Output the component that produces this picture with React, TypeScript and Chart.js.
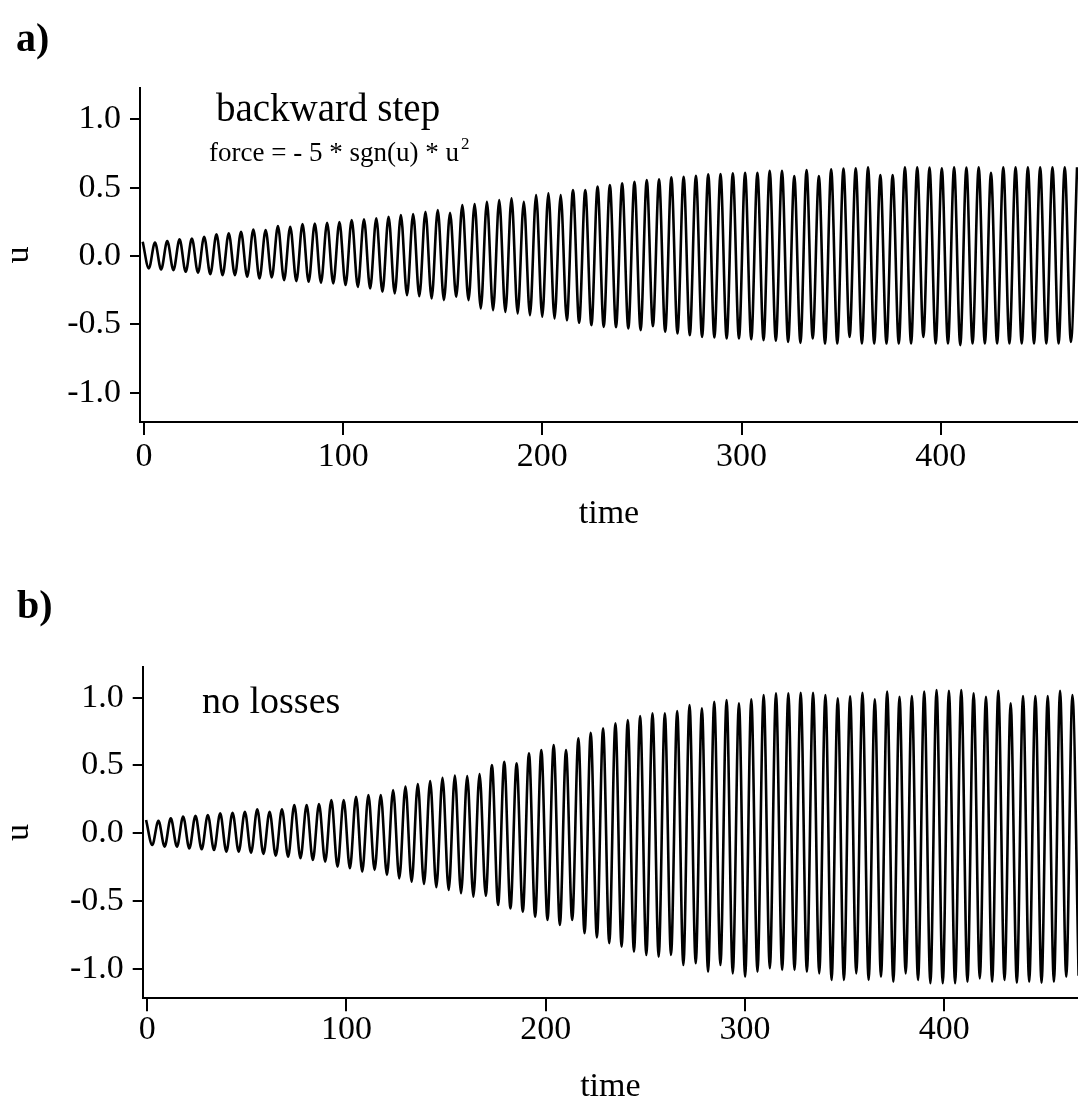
import React, { useEffect, useRef } from "react";
import { Chart, registerables } from "chart.js";

Chart.register(...registerables);

const FONT = '"Liberation Serif", "Times New Roman", serif';

// x ticks / y ticks
const xTickValues = [0, 100, 200, 300, 400];
const yTickValues = [-1.0, -0.5, 0.0, 0.5, 1.0];

// timing of the oscillation extrema
const startA = -0.65;
const periodA = 6.172;
const startB = -0.6;
const periodB = 6.2;

// panel a: backward step, peak (max) values per cycle
const peaksA = [
  0.105, 0.1, 0.11, 0.122, 0.129, 0.142, 0.159, 0.166, 0.178, 0.195,
  0.19, 0.22, 0.215, 0.234, 0.239, 0.244, 0.25, 0.264, 0.27, 0.276,
  0.288, 0.3, 0.308, 0.325, 0.337, 0.317, 0.374, 0.381, 0.398, 0.41,
  0.422, 0.398, 0.447, 0.459, 0.447, 0.484, 0.484, 0.508, 0.52, 0.532,
  0.544, 0.557, 0.562, 0.576, 0.581, 0.588, 0.598, 0.601, 0.606, 0.61,
  0.61, 0.625, 0.625, 0.586, 0.63, 0.586, 0.635, 0.64, 0.642, 0.65,
  0.593, 0.593, 0.65, 0.65, 0.647, 0.642, 0.65, 0.647, 0.65, 0.61,
  0.65, 0.65, 0.65, 0.65, 0.65, 0.65, 0.65,
];
// panel a: trough (min) values per cycle
const troughsA = [
  -0.09, -0.098, -0.103, -0.115, -0.122, -0.132, -0.139, -0.139, -0.151, -0.164,
  -0.156, -0.176, -0.183, -0.188, -0.195, -0.2, -0.212, -0.225, -0.237, -0.261,
  -0.273, -0.286, -0.293, -0.31, -0.322, -0.298, -0.322, -0.383, -0.396, -0.408,
  -0.42, -0.432, -0.444, -0.457, -0.469, -0.488, -0.505, -0.518, -0.52, -0.53,
  -0.542, -0.513, -0.554, -0.566, -0.579, -0.591, -0.596, -0.603, -0.603, -0.61,
  -0.615, -0.62, -0.628, -0.635, -0.603, -0.64, -0.64, -0.591, -0.64, -0.64,
  -0.64, -0.64, -0.64, -0.591, -0.64, -0.64, -0.652, -0.64, -0.64, -0.64,
  -0.64, -0.64, -0.64, -0.64, -0.64, -0.628,
];

// panel b: no losses
const peaksB = [
  0.098, 0.093, 0.11, 0.123, 0.13, 0.135, 0.147, 0.152, 0.159, 0.177,
  0.159, 0.177, 0.209, 0.209, 0.216, 0.245, 0.245, 0.27, 0.282, 0.282,
  0.319, 0.344, 0.363, 0.385, 0.41, 0.425, 0.422, 0.437, 0.503, 0.528,
  0.516, 0.59, 0.614, 0.651, 0.614, 0.7, 0.741, 0.774, 0.811, 0.835,
  0.864, 0.884, 0.884, 0.901, 0.945, 0.921, 0.97, 0.982, 0.958, 0.987,
  1.019, 1.032, 1.032, 1.036, 1.036, 1.019, 0.995, 1.01, 1.036, 0.987,
  1.044, 1.007, 1.012, 1.044, 1.056, 1.051, 1.056, 1.032, 1.007, 1.051,
  0.958, 1.012, 1.012, 1.012, 1.051, 1.019,
];
const troughsB = [
  -0.086, -0.098, -0.098, -0.111, -0.118, -0.123, -0.135, -0.135, -0.143, -0.152,
  -0.165, -0.172, -0.184, -0.197, -0.209, -0.246, -0.258, -0.283, -0.27, -0.307,
  -0.332, -0.357, -0.374, -0.398, -0.418, -0.442, -0.467, -0.46, -0.528, -0.553,
  -0.578, -0.615, -0.639, -0.676, -0.639, -0.737, -0.767, -0.81, -0.836, -0.873,
  -0.897, -0.909, -0.897, -0.971, -0.958, -1.02, -0.971, -1.032, -1.057, -1.02,
  -0.995, -1.007, -1.007, -1.02, -1.032, -1.081, -1.081, -1.032, -1.081, -1.057,
  -1.094, -1.032, -1.081, -1.105, -1.105, -1.105, -1.094, -1.069, -1.094, -1.081,
  -1.101, -1.094, -1.101, -1.094, -1.057, -1.05,
];

function buildPoints(peaks: number[], troughs: number[], start: number, period: number) {
  const pts: { x: number; y: number }[] = [];
  for (let k = 0; k < peaks.length; k++) {
    pts.push({ x: start + k * period, y: peaks[k] });
    if (k < troughs.length) pts.push({ x: start + (k + 0.5) * period, y: troughs[k] });
  }
  return pts;
}

type TextItem = { text: string; x: number; y: number; size: number; bold?: boolean; follow?: boolean };

function textPlugin(items: TextItem[]) {
  return {
    id: "texts",
    afterDraw(chart: any) {
      const ctx = chart.ctx;
      ctx.save();
      ctx.fillStyle = "#000";
      ctx.textBaseline = "alphabetic";
      ctx.textAlign = "left";
      let lastEnd = 0;
      for (const it of items) {
        ctx.font = `${it.bold ? "bold " : ""}${it.size}px ${FONT}`;
        const x = it.follow ? lastEnd + it.x : it.x;
        ctx.fillText(it.text, x, it.y);
        lastEnd = x + ctx.measureText(it.text).width;
      }
      ctx.restore();
    },
  };
}

interface PanelCfg {
  points: { x: number; y: number }[];
  xMin: number;
  xMax: number;
  yMin: number;
  yMax: number;
  padTop: number;
  yWidth: number;
  xHeight: number;
  xTickPad: number;
  titlePadBottom: number;
  texts: TextItem[];
}

function makeConfig(p: PanelCfg): any {
  return {
    type: "line",
    data: {
      datasets: [
        {
          data: p.points,
          borderColor: "#000",
          borderWidth: 2.6,
          pointRadius: 0,
          fill: false,
          cubicInterpolationMode: "monotone",
        },
      ],
    },
    options: {
      responsive: false,
      animation: false,
      events: [],
      layout: { padding: { top: p.padTop, left: 0, right: 0, bottom: 0 } },
      plugins: { legend: { display: false }, tooltip: { enabled: false }, title: { display: false } },
      scales: {
        x: {
          type: "linear",
          min: p.xMin,
          max: p.xMax,
          afterBuildTicks: (s: any) => {
            s.ticks = xTickValues.map((v) => ({ value: v }));
          },
          afterFit: (s: any) => {
            s.height = p.xHeight;
          },
          ticks: {
            color: "#000",
            font: { family: FONT, size: 34, lineHeight: 1 },
            padding: p.xTickPad,
            maxRotation: 0,
            autoSkip: false,
            callback: (v: number) => String(v),
          },
          grid: { drawOnChartArea: false, drawTicks: true, tickLength: 13, color: "#000", lineWidth: 2 },
          border: { display: true, color: "#000", width: 2 },
          title: {
            display: true,
            text: "time",
            color: "#000",
            font: { family: FONT, size: 34, lineHeight: 1 },
            padding: { top: 0, bottom: p.titlePadBottom },
          },
        },
        y: {
          type: "linear",
          min: p.yMin,
          max: p.yMax,
          afterBuildTicks: (s: any) => {
            s.ticks = yTickValues.map((v) => ({ value: v }));
          },
          afterFit: (s: any) => {
            s.width = p.yWidth;
          },
          ticks: {
            color: "#000",
            font: { family: FONT, size: 34, lineHeight: 1 },
            padding: 9,
            callback: (v: number) => v.toFixed(1),
          },
          grid: { drawOnChartArea: false, drawTicks: true, tickLength: 10, color: "#000", lineWidth: 2 },
          border: { display: true, color: "#000", width: 2 },
          title: {
            display: true,
            text: "u",
            color: "#000",
            font: { family: FONT, size: 34, lineHeight: 1 },
            padding: { top: 2, bottom: 0 },
          },
        },
      },
    },
    plugins: [textPlugin(p.texts)],
  };
}

export default function App() {
  const refA = useRef<HTMLCanvasElement>(null);
  const refB = useRef<HTMLCanvasElement>(null);

  useEffect(() => {
    const a = new Chart(
      refA.current as HTMLCanvasElement,
      makeConfig({
        points: buildPoints(peaksA, troughsA, startA, periodA),
        xMin: -2,
        xMax: 468.9,
        yMin: -1.214,
        yMax: 1.23,
        padTop: 88,
        yWidth: 140,
        xHeight: 138,
        xTickPad: 5,
        titlePadBottom: 29,
        texts: [
          { text: "a)", x: 16, y: 51, size: 40, bold: true },
          { text: "backward step", x: 216, y: 121, size: 39 },
          { text: "force = - 5 * sgn(u) * u", x: 209, y: 161, size: 27 },
          { text: "2", x: 2, y: 149, size: 17, follow: true },
        ],
      })
    );
    const b = new Chart(
      refB.current as HTMLCanvasElement,
      makeConfig({
        points: buildPoints(peaksB, troughsB, startB, periodB),
        xMin: -2.3,
        xMax: 467.2,
        yMin: -1.216,
        yMax: 1.228,
        padTop: 106.7,
        yWidth: 142.7,
        xHeight: 106.7,
        xTickPad: 2,
        titlePadBottom: 1,
        texts: [
          { text: "b)", x: 17, y: 58, size: 40, bold: true },
          { text: "no losses", x: 202, y: 153, size: 38 },
        ],
      })
    );
    return () => {
      a.destroy();
      b.destroy();
    };
  }, []);

  return (
    <div style={{ position: "absolute", left: 0, top: 0, width: 1078, height: 1105, background: "#fff" }}>
      <canvas ref={refA} width={1078} height={560} style={{ position: "absolute", left: 0, top: 0, width: 1078, height: 560 }} />
      <canvas ref={refB} width={1078} height={545} style={{ position: "absolute", left: 0, top: 560, width: 1078, height: 545 }} />
    </div>
  );
}
